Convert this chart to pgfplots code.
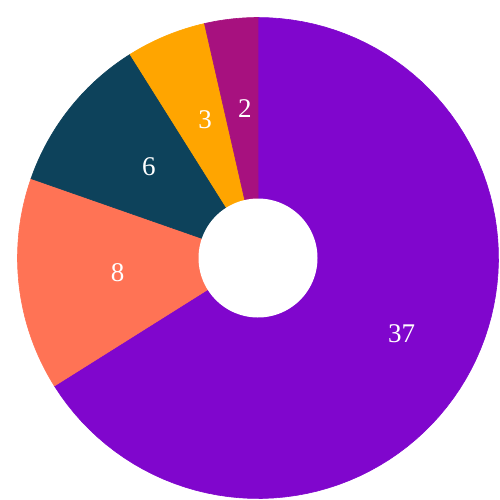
\documentclass[border=0pt]{standalone}
\usepackage{pgfplots}
\usepackage{pgfplotstable}
\pgfplotsset{compat=1.18}
\usepackage{fontspec}
\setmainfont{Liberation Serif}
\definecolor{cA}{HTML}{8006CD}
\definecolor{cB}{HTML}{FF7355}
\definecolor{cC}{HTML}{0D425B}
\definecolor{cD}{HTML}{FFA500}
\definecolor{cE}{HTML}{A7117F}

% slice values, clockwise from 12 o'clock; lr = label radius
\pgfplotstableread{
value col lr
37 cA 0.665
8  cB 0.603
6  cC 0.600
3  cD 0.614
2  cE 0.619
}\slices

\begin{document}
\begin{tikzpicture}
\begin{axis}[
  hide axis, scale only axis,
  width=250pt, height=250pt,
  xmin=-1.0728, xmax=1.0062,
  ymin=-1.0062, ymax=1.0728,
  clip=false,
]
% keep the full axis area as the page
\path (rel axis cs:0,0) rectangle (rel axis cs:1,1);
\def\total{56}
\def\cum{0}
\pgfplotsforeachungrouped \i in {0,...,4} {
  \pgfplotstablegetelem{\i}{value}\of\slices \let\v\pgfplotsretval
  \pgfplotstablegetelem{\i}{col}\of\slices \let\c\pgfplotsretval
  \pgfplotstablegetelem{\i}{lr}\of\slices \let\lr\pgfplotsretval
  \pgfmathsetmacro\a{90-360*(\cum/\total)}
  \pgfmathsetmacro\b{\a-360*(\v/\total)}
  \pgfmathsetmacro\m{(\a+\b)/2}
  \pgfmathsetmacro\lx{\lr*cos(\m)}
  \pgfmathsetmacro\ly{\lr*sin(\m)}
  \edef\cmd{%
    \noexpand\addplot[fill=\c, draw=\c, line width=0.3pt, domain=\b:\a, samples=90]
      ({cos(x)},{sin(x)}) -- (0,0) -- cycle;
    \noexpand\node[text=white, xshift=1.8pt, yshift=0.9pt,
      font=\noexpand\fontsize{13.5}{15}\noexpand\selectfont]
      at (axis cs:\lx,\ly) {\v};
  }
  \cmd
  \pgfmathsetmacro\cum{\cum+\v}
}
\addplot[fill=white, draw=none, domain=0:360, samples=120]
  ({0.2474*cos(x)},{0.2474*sin(x)}) -- cycle;
\end{axis}
\end{tikzpicture}
\end{document}
